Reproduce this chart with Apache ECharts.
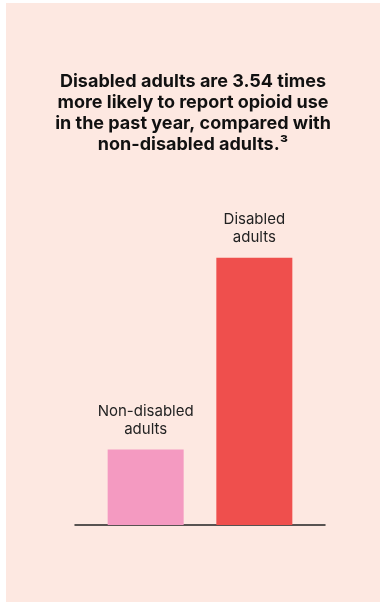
<!DOCTYPE html>
<html>
<head>
<meta charset="utf-8">
<script src="https://cdn.jsdelivr.net/npm/echarts@6/dist/echarts.min.js"></script>
<style>
  html, body { margin: 0; padding: 0; background: #ffffff; }
  #chart { position: absolute; left: 6px; top: 3px; width: 374px; height: 599px; }
</style>
</head>
<body>
<div id="chart"></div>
<script>
// Relative likelihood of past-year opioid use (non-disabled = 1)
const groups = ['Non-disabled\nadults', 'Disabled\nadults'];
const values = [1, 3.54];
const colors = ['#f49ac1', '#ef4f4d'];
const titleLines = [
  'Disabled adults are 3.54 times',
  'more likely to report opioid use',
  'in the past year, compared with',
  'non-disabled adults.³'
];

const chart = echarts.init(document.getElementById('chart'));

const series = groups.map((name, i) => ({
  type: 'bar',
  name: name,
  data: [values[i]],
  barWidth: 76,
  barGap: '43%',
  itemStyle: { color: colors[i] },
  label: {
    show: true,
    position: 'top',
    distance: 11,
    formatter: '{a}',
    fontFamily: 'Inter',
    fontSize: 15,
    lineHeight: 18,
    color: '#222222'
  },
  emphasis: { disabled: true },
  animation: false
}));

chart.setOption({
  backgroundColor: '#fde8e1',
  animation: false,
  title: {
    text: titleLines.join('\n'),
    left: 'center',
    top: 63,
    textStyle: {
      fontFamily: 'Inter',
      fontWeight: 'bold',
      fontSize: 18,
      lineHeight: 21,
      color: '#111111'
    }
  },
  grid: { left: 69, right: 55, top: 220, bottom: 77, containLabel: false },
  xAxis: {
    type: 'category',
    data: [''],
    axisLine: { show: true, lineStyle: { color: '#222222', width: 1.5 } },
    axisTick: { show: false },
    axisLabel: { show: false }
  },
  yAxis: {
    type: 'value',
    min: 0,
    max: 4,
    show: false,
    splitLine: { show: false }
  },
  series: series
});
</script>
</body>
</html>
